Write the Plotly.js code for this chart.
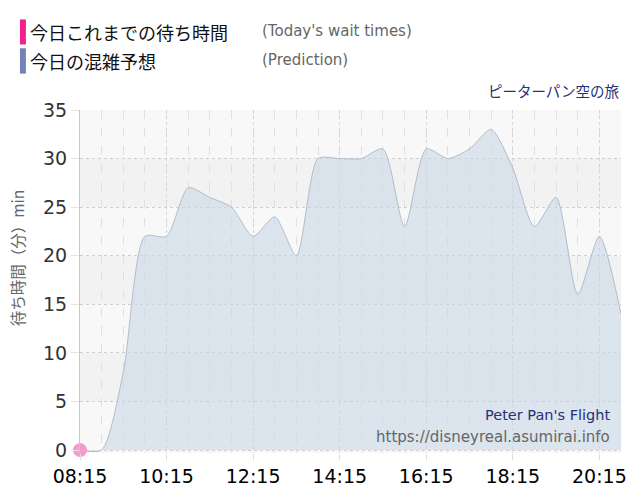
<!DOCTYPE html>
<html>
<head>
<meta charset="utf-8">
<script src="https://cdn.plot.ly/plotly-3.0.1.min.js"></script>
<style>
html,body{margin:0;padding:0;background:#fff;}
#chart{width:640px;height:500px;}
</style>
</head>
<body>
<div id="chart"></div>
<script>
// ---- data ----
var day = '2024-01-01 ';
var predTimes = ['08:15','08:45','09:15','09:45','10:15','10:45','11:15','11:45','12:15','12:45','13:15','13:45','14:15','14:45','15:15','15:45','16:15','16:45','17:15','17:45','18:15','18:45','19:15','19:45','20:15','20:45'];
var predValues = [0,0,8,22,22,27,26,25,22,24,20,30,30,30,31,23,31,30,31,33,29,23,26,16,22,14];
var actualTimes = ['08:15'];
var actualValues = [0];
var yTicks = [0,5,10,15,20,25,30,35];
var xTickLabels = ['08:15','10:15','12:15','14:15','16:15','18:15','20:15'];
var rangeStart = '08:15', rangeEnd = '20:45';

var jp = '"Noto Sans CJK JP", "Noto Sans", sans-serif';
var latin = '"DejaVu Sans", Verdana, sans-serif';

function d(t){ return day + t; }

var traces = [
  {
    x: predTimes.map(d), y: predValues, type: 'scatter', mode: 'lines',
    line: {shape: 'spline', smoothing: 0.7, color: 'rgba(170,184,198,0.9)', width: 1},
    fill: 'tozeroy', fillcolor: 'rgba(202,217,230,0.6)',
    hoverinfo: 'skip', showlegend: false
  },
  {
    x: actualTimes.map(d), y: actualValues, type: 'scatter', mode: 'markers',
    marker: {size: 14, color: '#f59bcb', line: {width: 0}},
    cliponaxis: false, showlegend: false
  }
];

// background bands (alternating every y tick interval)
var shapes = [];
for (var i = 0; i < yTicks.length - 1; i++) {
  shapes.push({
    type: 'rect', xref: 'paper', yref: 'y', x0: 0, x1: 1,
    y0: yTicks[i], y1: yTicks[i+1], layer: 'below', line: {width: 0},
    fillcolor: (i % 2 === 0) ? '#f8f8f8' : '#f2f2f2'
  });
}
// legend colour bars (paper coords)
shapes.push({type:'rect', xref:'paper', yref:'paper', x0:-0.111, x1:-0.100, y0:1.191, y1:1.264, fillcolor:'#f2208e', line:{width:0}});
shapes.push({type:'rect', xref:'paper', yref:'paper', x0:-0.111, x1:-0.100, y0:1.106, y1:1.180, fillcolor:'#7483b5', line:{width:0}});

var annotations = [
  {text:'今日これまでの待ち時間', xref:'paper', yref:'paper', x:-0.097, y:1.228, xanchor:'left', yanchor:'middle', showarrow:false, font:{family:jp, size:18, color:'#111'}},
  {text:"(Today's wait times)", xref:'paper', yref:'paper', x:0.332, y:1.230, xanchor:'left', yanchor:'middle', showarrow:false, font:{family:latin, size:15, color:'#666'}},
  {text:'今日の混雑予想', xref:'paper', yref:'paper', x:-0.097, y:1.143, xanchor:'left', yanchor:'middle', showarrow:false, font:{family:jp, size:18, color:'#111'}},
  {text:'(Prediction)', xref:'paper', yref:'paper', x:0.332, y:1.145, xanchor:'left', yanchor:'middle', showarrow:false, font:{family:latin, size:15, color:'#666'}},
  {text:'ピーターパン空の旅', xref:'paper', yref:'paper', x:1.002, y:1.058, xanchor:'right', yanchor:'middle', showarrow:false, font:{family:jp, size:14.5, color:'#25307a'}},
  {text:"Peter Pan's Flight", xref:'paper', yref:'paper', x:0.984, y:0.110, xanchor:'right', yanchor:'middle', showarrow:false, font:{family:latin, size:14.5, color:'#25307a'}},
  {text:'https://disneyreal.asumirai.info', xref:'paper', yref:'paper', x:0.984, y:0.046, xanchor:'right', yanchor:'middle', showarrow:false, font:{family:latin, size:15, color:'#666'}},
  {text:'待ち時間（分）min', xref:'paper', yref:'paper', x:-0.115, y:0.57, xanchor:'center', yanchor:'middle', textangle:-90, showarrow:false, font:{family:jp, size:15.5, color:'#666'}}
];

var layout = {
  width: 640, height: 500,
  margin: {l: 80, r: 19, t: 110, b: 47},
  paper_bgcolor: '#ffffff', plot_bgcolor: '#f8f8f8',
  showlegend: false,
  xaxis: {
    type: 'date',
    range: [d(rangeStart), d(rangeEnd)],
    tickmode: 'array',
    tickvals: xTickLabels.map(d),
    ticktext: xTickLabels,
    ticks: 'outside', ticklen: 6, tickcolor: '#dddddd',
    tickfont: {family: latin, size: 19, color: '#000'},
    showgrid: true, gridcolor: '#d4d4d4', griddash: 'dot', gridwidth: 1,
    minor: {dtick: 1800000, tick0: d(rangeStart), showgrid: true, gridcolor: '#e0e0e0', griddash: 'dash', gridwidth: 1},
    showline: false, zeroline: false, fixedrange: true
  },
  yaxis: {
    range: [-0.3, 35],
    tickmode: 'array', tickvals: yTicks,
    ticks: 'outside', ticklen: 8, tickcolor: '#e6e6e6',
    tickfont: {family: latin, size: 19, color: '#333'},
    showgrid: true, gridcolor: '#cfcfcf', griddash: 'dot', gridwidth: 1,
    showline: true, linecolor: '#c8c8c8', linewidth: 1,
    zeroline: false, fixedrange: true
  },
  shapes: shapes,
  annotations: annotations
};

Plotly.newPlot('chart', traces, layout, {displayModeBar: false, staticPlot: true});
</script>
</body>
</html>
